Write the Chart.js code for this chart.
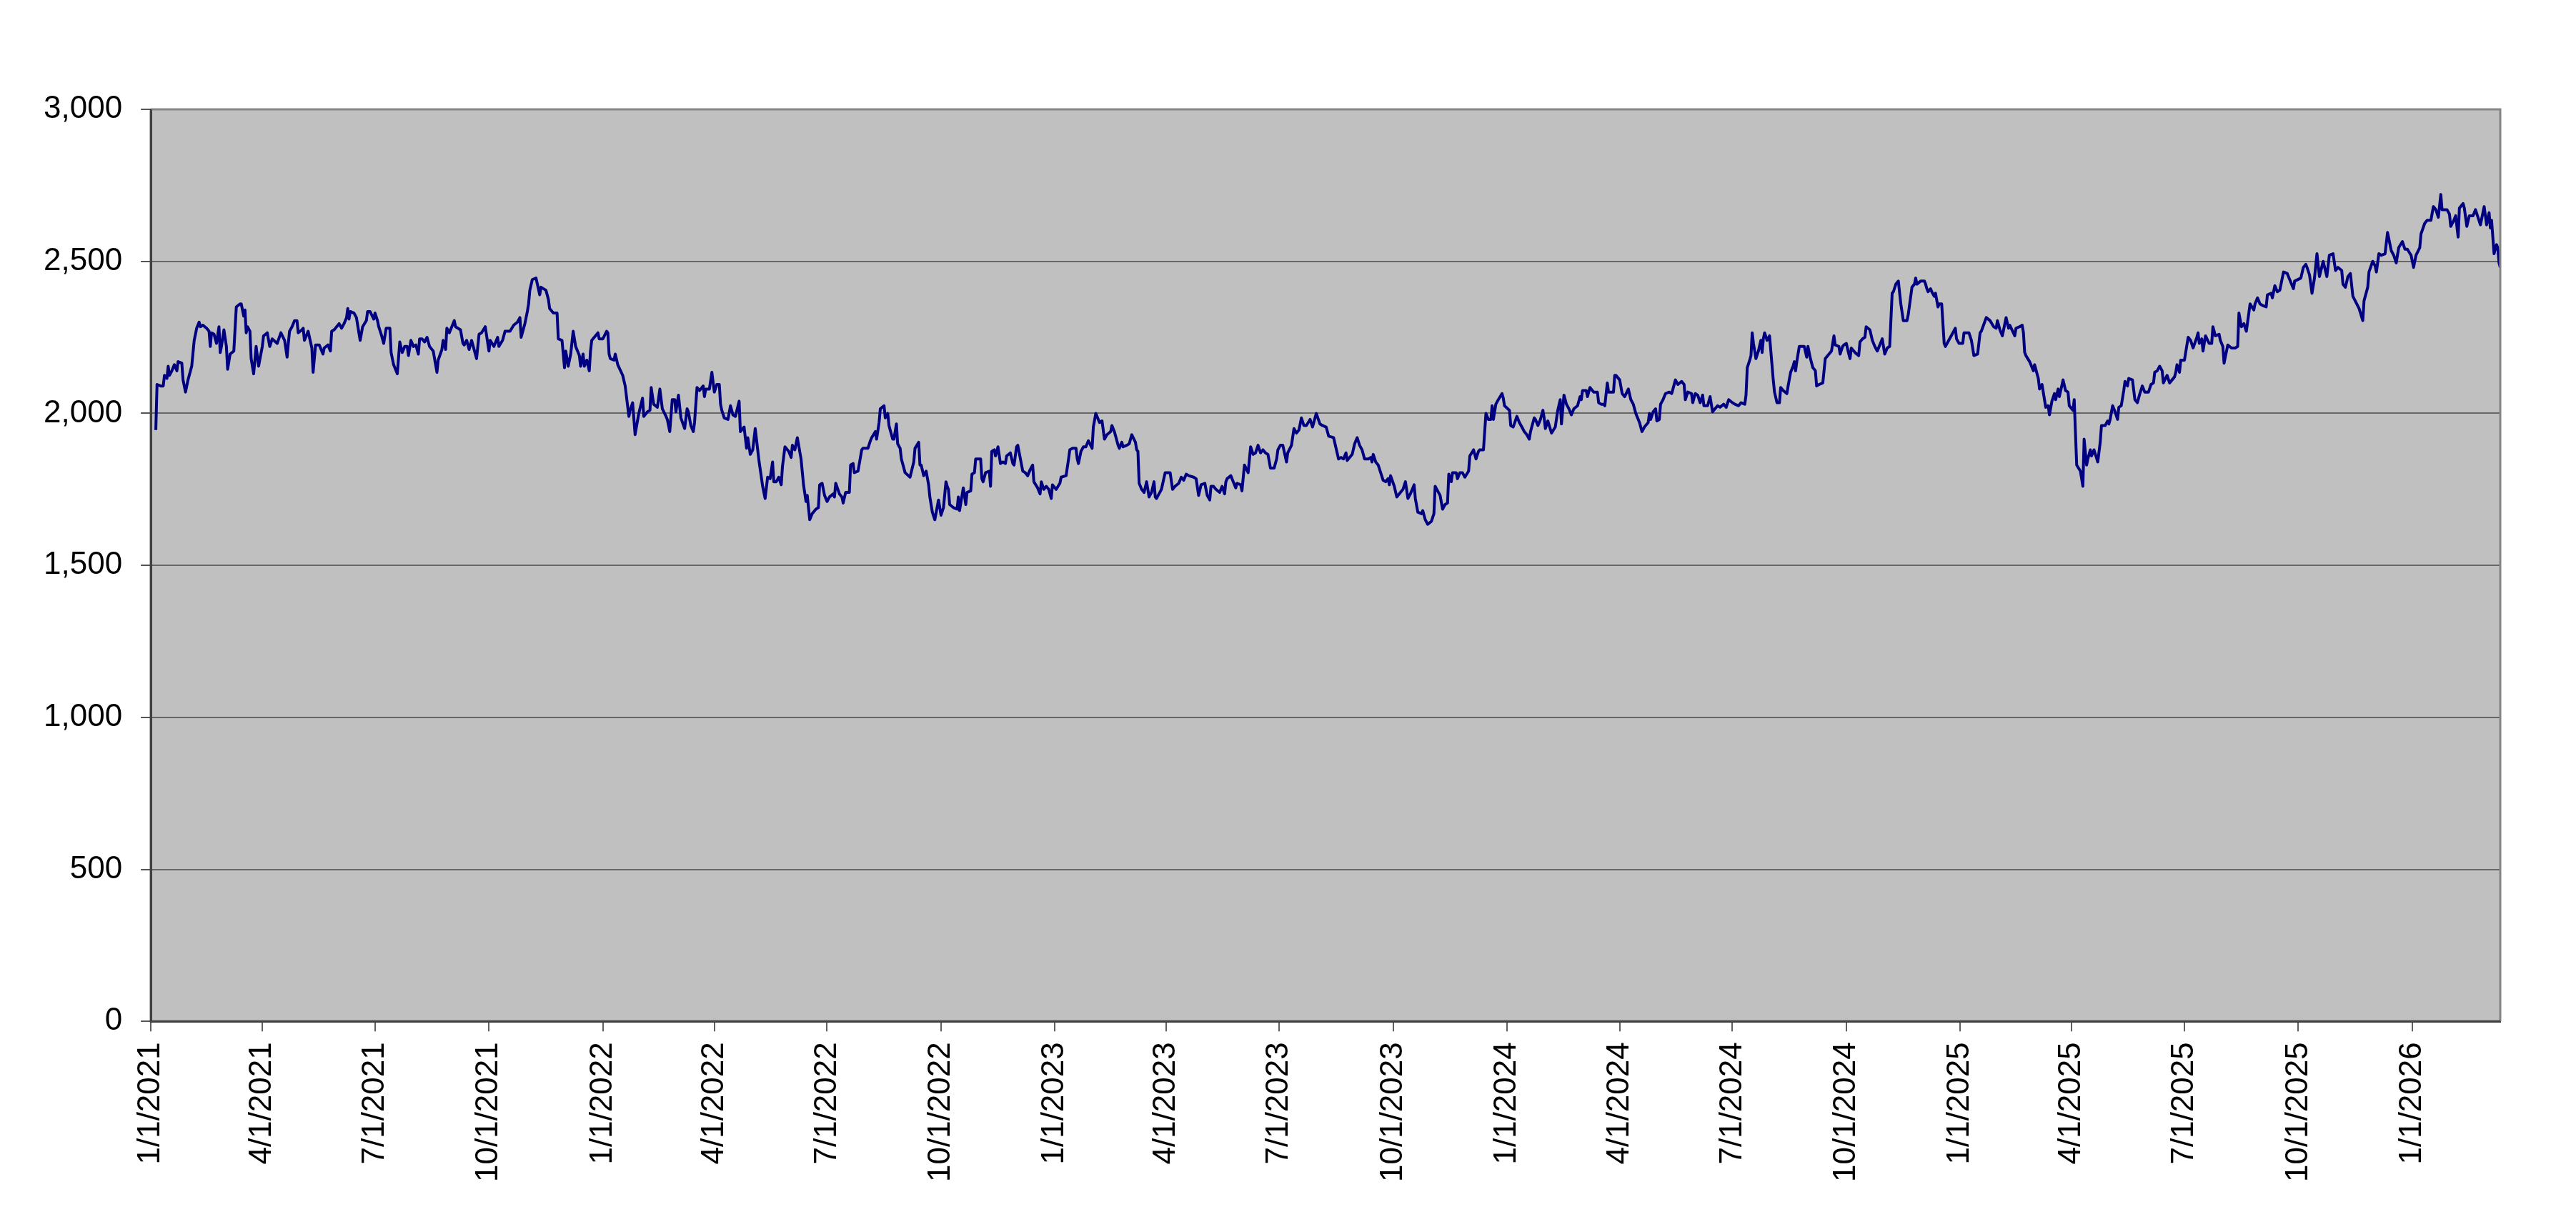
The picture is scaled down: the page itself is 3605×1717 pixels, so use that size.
<!DOCTYPE html>
<html><head><meta charset="utf-8">
<script src="https://cdn.jsdelivr.net/npm/chart.js@4.4.1/dist/chart.umd.min.js"></script>
<style>html,body{margin:0;padding:0;background:#fff;}canvas{display:block;}</style>
</head><body>
<canvas id="c" width="3605" height="1717"></canvas>
<script>
// Day-of-year (0 = Jan 1) and index value, one pair of arrays per year
const d2021 = [4,5,8,10,11,13,14,15,17,19,21,22,25,26,28,30,33,35,37,39,40,42,45,47,48,49,51,53,55,56,57,59,61,62,64,67,69,72,73,75,76,77,78,80,81,83,85,87,90,91,94,96,98,102,105,108,110,111,112,114,116,118,119,122,123,124,127,130,131,133,136,139,140,143,145,146,148,150,152,154,156,158,159,160,161,164,166,169,171,174,175,177,180,181,183,184,186,188,190,193,194,196,199,201,203,205,207,208,210,212,214,216,217,219,221,223,225,228,231,232,235,236,238,239,241,245,246,250,252,253,255,257,259,263,265,267,270,273,274,277,280,281,284,286,290,293,296,298,299,302,304,305,306,308,311,314,315,319,321,322,325,328,329,332,334,335,337,339,341,343,346,347,349,350,352,354,355,356,359,361,362];
const v2021 = [1945,2095,2090,2090,2125,2115,2155,2125,2140,2160,2140,2170,2165,2110,2070,2110,2155,2240,2280,2300,2285,2290,2280,2270,2220,2265,2260,2230,2285,2200,2220,2275,2220,2145,2195,2205,2350,2360,2360,2320,2340,2265,2285,2270,2180,2130,2220,2155,2220,2255,2265,2220,2245,2230,2265,2240,2185,2230,2270,2285,2305,2305,2265,2275,2280,2240,2270,2215,2135,2225,2225,2195,2215,2225,2205,2270,2275,2285,2295,2280,2295,2315,2345,2310,2335,2330,2315,2240,2285,2305,2335,2335,2310,2330,2305,2285,2260,2230,2280,2280,2200,2160,2130,2235,2200,2220,2220,2190,2240,2220,2225,2195,2245,2245,2235,2250,2220,2205,2135,2175,2210,2240,2210,2280,2265,2305,2285,2275,2230,2225,2240,2210,2240,2180,2260,2265,2285,2205,2240,2220,2250,2220,2240,2270,2270,2290,2300,2315,2250,2295,2335,2360,2405,2440,2445,2390,2415,2405,2375,2345,2330,2330,2245,2240,2150,2205,2155,2195,2270,2220,2190,2155,2195,2155,2175,2140,2205,2240,2255,2265,2245];

const d2022 = [0,3,4,5,6,9,10,12,16,18,21,22,24,26,29,32,33,36,38,39,41,44,46,48,51,52,54,56,58,59,61,63,66,68,69,71,73,74,76,78,81,82,83,86,88,90,92,94,95,96,98,101,103,105,107,110,111,114,116,117,119,121,123,126,129,131,133,135,137,138,140,142,144,145,147,150,152,153,155,157,160,162,164,165,167,169,172,174,175,177,179,181,183,186,187,188,191,193,194,196,199,200,202,203,206,209,210,214,216,217,220,221,223,224,227,228,230,231,234,235,237,238,240,241,244,248,251,252,255,256,257,259,261,263,264,266,268,271,273,275,277,278,279,280,283,286,287,288,291,293,294,297,298,300,301,305,306,307,309,312,313,314,316,317,319,321,323,325,326,329,331,332,334,335,339,341,343,345,347,348,351,353,354,356,358,360,362,363];
const v2022 = [2245,2270,2265,2195,2180,2175,2195,2160,2125,2090,1990,2010,2035,1930,2000,2050,1990,2005,2010,2085,2030,2020,2080,2015,1990,1980,1940,2045,2045,2005,2060,1985,1950,2015,2005,1960,1940,1970,2085,2075,2090,2055,2080,2080,2135,2070,2095,2095,2030,2010,1985,1980,2025,1995,1990,2040,1940,1955,1885,1920,1865,1880,1950,1845,1760,1720,1790,1785,1840,1775,1775,1790,1765,1825,1890,1875,1855,1895,1880,1920,1850,1765,1710,1730,1650,1670,1685,1690,1765,1770,1730,1710,1725,1735,1725,1770,1735,1725,1705,1740,1740,1830,1835,1805,1810,1880,1885,1885,1910,1920,1940,1915,1970,2015,2025,1985,2000,1960,1915,1915,1965,1900,1885,1850,1805,1790,1840,1885,1905,1830,1830,1795,1810,1765,1725,1675,1650,1715,1665,1690,1775,1760,1750,1700,1690,1685,1725,1680,1755,1700,1740,1745,1800,1805,1850,1850,1785,1775,1805,1810,1760,1875,1880,1860,1890,1835,1840,1835,1860,1870,1835,1830,1890,1895,1810,1805,1795,1815,1830,1775,1755,1735,1775,1750,1760,1750,1720,1765];

const d2023 = [1,4,5,9,11,12,14,17,18,19,21,23,25,27,30,31,33,34,36,38,40,42,45,46,48,51,52,54,55,58,60,62,65,66,67,68,70,72,74,75,76,78,80,81,82,84,86,89,93,95,97,100,102,104,106,108,112,114,116,118,121,123,125,126,128,130,133,135,137,138,139,142,144,146,147,150,151,153,156,158,160,162,164,166,168,170,172,174,177,179,180,182,184,187,188,191,193,195,197,199,201,203,206,208,211,214,216,219,221,225,229,231,233,235,236,240,242,244,246,248,250,253,255,256,257,259,261,263,265,267,269,270,271,274,276,279,281,283,285,287,290,291,293,296,297,299,301,304,306,307,309,311,313,315,317,318,320,321,324,325,327,329,331,334,335,338,340,342,343,346,348,350,352,353,354,356,358,361,362,363];
const v2023 = [1750,1770,1790,1795,1850,1880,1885,1885,1850,1835,1875,1890,1890,1910,1885,1955,2000,1990,1970,1975,1915,1930,1940,1960,1940,1895,1885,1905,1890,1895,1900,1930,1905,1880,1875,1770,1750,1740,1775,1750,1725,1740,1775,1725,1720,1735,1750,1805,1805,1750,1760,1770,1790,1780,1800,1795,1790,1785,1730,1765,1770,1730,1715,1760,1760,1750,1740,1760,1735,1775,1785,1795,1775,1755,1770,1765,1745,1830,1805,1890,1865,1870,1895,1870,1880,1870,1865,1820,1820,1850,1880,1895,1895,1840,1870,1895,1950,1935,1945,1985,1960,1960,1980,1955,2000,1965,1960,1955,1925,1920,1850,1855,1850,1870,1845,1865,1900,1920,1895,1880,1850,1850,1855,1840,1865,1840,1830,1805,1780,1775,1785,1765,1795,1760,1725,1740,1750,1775,1720,1735,1765,1720,1675,1670,1680,1650,1635,1645,1670,1760,1745,1730,1685,1700,1705,1800,1775,1805,1805,1785,1805,1805,1790,1810,1860,1880,1850,1875,1880,1880,2000,1980,1980,2025,1980,2030,2045,2065,2050,2025];

const d2024 = [2,3,5,8,10,12,14,16,18,19,22,23,25,27,29,30,31,33,36,39,41,43,44,46,48,50,52,54,57,59,60,61,64,65,67,70,73,74,76,78,79,81,82,86,87,88,91,93,95,98,100,102,104,107,109,111,114,115,116,118,120,121,123,124,126,128,131,133,136,138,141,143,144,146,149,150,152,154,156,158,159,162,164,166,168,170,172,175,177,179,182,184,187,189,192,193,194,196,197,198,199,201,203,205,206,207,208,210,212,215,216,218,220,221,223,226,227,229,231,232,233,234,236,238,240,242,243,245,247,249,250,252,255,257,260,262,264,265,268,269,271,272,274,276,277,278,281,284,285,287,289,290,293,295,297,299,301,303,305,307,309,311,312,314,316,318,320,323,324,327,329,330,331,334,337,338,339,340,342,343,345,346,348,349,351,353,354,356,360,362,363,365];
const v2024 = [2010,1960,1955,1990,1970,1955,1940,1930,1915,1940,1985,1980,1960,1980,2010,1985,1950,1975,1935,1955,2010,2045,1965,2060,2030,2015,1995,2015,2025,2055,2045,2075,2075,2055,2085,2070,2070,2035,2030,2030,2025,2100,2070,2070,2125,2125,2110,2065,2055,2080,2045,2030,2000,1970,1940,1955,1970,2000,1980,2005,2015,1975,1980,2030,2045,2065,2070,2065,2110,2095,2105,2095,2045,2070,2065,2035,2065,2060,2035,2060,2025,2025,2055,2005,2015,2025,2020,2030,2020,2045,2035,2030,2025,2035,2030,2060,2150,2175,2190,2265,2230,2180,2205,2240,2200,2245,2265,2240,2255,2110,2070,2035,2035,2085,2075,2065,2090,2135,2155,2170,2140,2170,2220,2220,2220,2185,2220,2180,2150,2140,2090,2095,2100,2180,2195,2205,2255,2225,2220,2195,2220,2225,2230,2195,2180,2215,2200,2190,2235,2245,2250,2285,2275,2240,2220,2205,2225,2245,2195,2215,2220,2395,2400,2425,2435,2360,2305,2305,2325,2415,2425,2445,2425,2435,2435,2425,2410,2400,2410,2400,2385,2395,2350,2360,2360,2230,2220,2235,2265,2280,2245,2230];

const d2025 = [2,3,7,9,11,14,16,17,21,24,27,29,30,32,34,37,39,40,44,45,48,50,51,52,53,56,59,60,63,64,66,67,69,71,72,74,76,77,79,80,83,85,87,88,91,92,94,97,99,100,102,103,105,106,108,111,113,114,117,119,120,121,123,125,127,128,130,132,133,135,136,139,141,143,145,147,149,152,154,156,157,159,161,163,164,167,169,171,173,174,175,177,178,181,184,186,188,191,192,193,195,196,198,201,203,204,206,209,210,212,213,216,219,222,224,225,227,229,231,234,237,238,240,242,244,247,248,251,252,254,256,258,261,264,269,270,275,277,279,280,282,284,286,288,290,293,296,298,301,303,305,308,309,311,313,315,317,322,325,326,329,330,333,335,336,338,340,343,345,348,350,352,354,357,359,361,364];
const v2025 = [2230,2265,2265,2240,2190,2195,2265,2270,2315,2305,2285,2280,2305,2275,2255,2315,2280,2290,2255,2280,2285,2290,2265,2200,2190,2170,2140,2160,2115,2080,2095,2070,2020,2025,1995,2040,2065,2045,2080,2055,2110,2075,2070,2025,2010,2045,1830,1810,1760,1915,1830,1850,1880,1860,1880,1840,1905,1960,1960,1975,1965,1980,2025,2005,1980,2020,2025,2075,2105,2090,2115,2110,2045,2035,2065,2090,2070,2070,2095,2100,2135,2140,2155,2140,2100,2125,2100,2110,2120,2135,2160,2135,2175,2175,2250,2240,2215,2250,2265,2230,2245,2205,2255,2230,2230,2285,2255,2260,2240,2220,2165,2225,2215,2215,2220,2330,2285,2295,2270,2360,2340,2360,2380,2360,2355,2350,2390,2395,2380,2420,2400,2405,2465,2460,2410,2435,2445,2480,2490,2480,2455,2395,2445,2525,2450,2500,2450,2520,2525,2470,2480,2470,2425,2415,2450,2460,2385,2345,2305,2370,2415,2465,2500,2485,2465,2525,2520,2525,2595,2535,2520,2495,2545,2565,2540,2540,2520];

const d2026 = [1,3,6,7,10,12,15,17,19,21,23,24,28,30,31,33,35,37,38,41,42,44,46,49,51,55,58,60,62,63,64,66,68,69,70,71];
const v2026 = [2480,2520,2545,2590,2625,2635,2635,2680,2670,2645,2720,2670,2670,2655,2615,2630,2650,2580,2675,2690,2675,2615,2650,2650,2670,2620,2680,2620,2660,2610,2635,2525,2555,2545,2495,2480];

const tickLabels = ["1/1/2021","4/1/2021","7/1/2021","10/1/2021","1/1/2022","4/1/2022","7/1/2022","10/1/2022","1/1/2023","4/1/2023","7/1/2023","10/1/2023","1/1/2024","4/1/2024","7/1/2024","10/1/2024","1/1/2025","4/1/2025","7/1/2025","10/1/2025","1/1/2026"];
const yTicks = [0,500,1000,1500,2000,2500,3000];

const DAY = 86400000;
const BASE = Date.UTC(2021,0,1);
function yearPoints(year, days, vals){
  const start = (Date.UTC(year,0,1) - BASE) / DAY;
  return days.map((d,i)=>({x:start+d, y:vals[i]}));
}
const points = [].concat(
  yearPoints(2021,d2021,v2021), yearPoints(2022,d2022,v2022), yearPoints(2023,d2023,v2023),
  yearPoints(2024,d2024,v2024), yearPoints(2025,d2025,v2025), yearPoints(2026,d2026,v2026));
function labelToDay(s){ const [m,d,y] = s.split('/').map(Number); return (Date.UTC(y,m-1,d) - BASE) / DAY; }
const tickDays = tickLabels.map(labelToDay);

const FONT = {family:'"Liberation Sans", Arial, sans-serif', size:44};

const plotFrame = {
  id:'plotFrame',
  beforeDraw(chart){
    const {ctx, chartArea:a} = chart;
    ctx.save(); ctx.fillStyle = '#c0c0c0';
    ctx.fillRect(a.left, a.top, a.right-a.left, a.bottom-a.top); ctx.restore();
  },
  afterDraw(chart){
    const {ctx, chartArea:a} = chart;
    ctx.save(); ctx.strokeStyle = '#858585'; ctx.lineWidth = 3;
    ctx.beginPath(); ctx.moveTo(a.left, a.top); ctx.lineTo(a.right, a.top); ctx.lineTo(a.right, a.bottom); ctx.stroke();
    ctx.strokeStyle = '#404040';
    ctx.beginPath(); ctx.moveTo(a.left, a.top); ctx.lineTo(a.left, a.bottom); ctx.lineTo(a.right, a.bottom); ctx.stroke();
    ctx.restore();
  }
};

new Chart(document.getElementById('c'), {
  type:'line',
  data:{datasets:[{data:points, borderColor:'#000080', borderWidth:4, pointRadius:0, tension:0, fill:false, borderJoinStyle:'round'}]},
  options:{
    responsive:false, animation:false, devicePixelRatio:1,
    layout:{padding:{left:35, right:106, top:153, bottom:48}},
    plugins:{legend:{display:false}, tooltip:{enabled:false}},
    scales:{
      x:{type:'linear', min:0, max:points[points.length-1].x,
        afterBuildTicks(s){ s.ticks = tickDays.map(v=>({value:v})); },
        ticks:{autoSkip:false, minRotation:90, maxRotation:90, padding:15, color:'#000', font:FONT,
          callback:(v,i)=>tickLabels[i]},
        grid:{drawOnChartArea:false, drawTicks:true, tickLength:14, color:'#606060', lineWidth:2},
        border:{display:true, color:'#404040', width:3}},
      y:{min:0, max:3000,
        afterBuildTicks(s){ s.ticks = yTicks.map(v=>({value:v})); },
        ticks:{padding:26, color:'#000', font:FONT, callback:v=>v.toLocaleString('en-US')},
        grid:{color:'#666666', lineWidth:2, tickLength:14, drawTicks:true, tickColor:'#555'},
        border:{display:true, color:'#404040', width:3}}
    }
  },
  plugins:[plotFrame]
});
</script>
</body></html>
